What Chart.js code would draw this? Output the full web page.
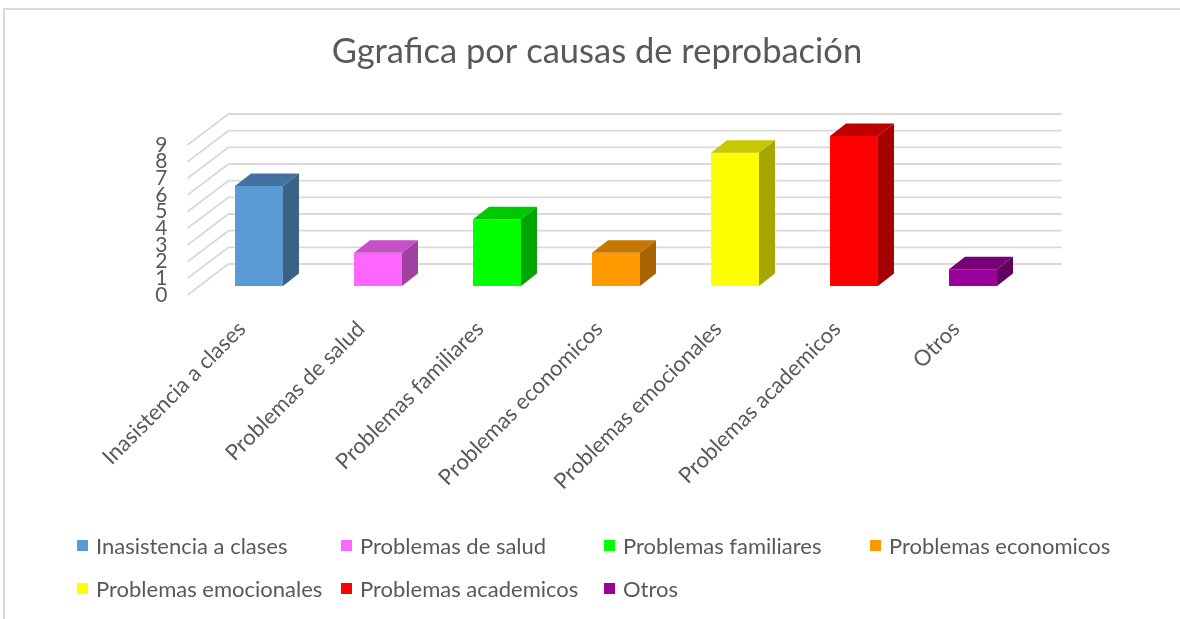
<!DOCTYPE html>
<html lang="es">
<head>
    <meta charset="UTF-8">
    <title>Ggrafica por causas de reprobación</title>
    <script src="https://cdn.jsdelivr.net/npm/chart.js"></script>
    <style>
        * {
            box-sizing: border-box;
            margin: 0;
            padding: 0;
        }
        body {
            width: 1180px;
            height: 619px;
            overflow: hidden;
            background: #ffffff;
            font-family: Lato, sans-serif;
            position: relative;
        }
        .frame {
            position: absolute;
            left: 3px;
            top: 8px;
            width: 1400px;
            height: 800px;
            border: 2px solid #d9d9d9;
        }
        canvas {
            position: absolute;
            left: 0;
            top: 0;
        }
        .legend {
            position: absolute;
            left: 77px;
            top: 532px;
            display: grid;
            grid-template-columns: 264px 263px 266px auto;
            row-gap: 17px;
            color: #595959;
            font-size: 22px;
        }
        .legend-item {
            display: flex;
            align-items: center;
            height: 26px;
            white-space: nowrap;
        }
        .legend-item span {
            display: inline-block;
            width: 11px;
            height: 11px;
            margin-right: 8px;
        }
    </style>
</head>
<body>

<div class="frame"></div>
<canvas id="chart" width="1180" height="619"></canvas>
<div class="legend" id="legend"></div>

<script>
    // chart data
    var categories = ['Inasistencia a clases', 'Problemas de salud', 'Problemas familiares',
        'Problemas economicos', 'Problemas emocionales', 'Problemas academicos', 'Otros'];
    var values = [6, 2, 4, 2, 8, 9, 1];
    var yTicks = [0, 1, 2, 3, 4, 5, 6, 7, 8, 9];

    // bar colours: front, top, side
    var frontColors = ['#5b9bd5', '#ff66ff', '#00ff00', '#ff9900', '#ffff00', '#ff0000', '#990099'];
    var topColors = ['#4472a0', '#c64fc6', '#00c800', '#c77700', '#c8c800', '#c00000', '#770077'];
    var sideColors = ['#3a6186', '#a040a0', '#00a300', '#a86400', '#a6a600', '#a50000', '#600060'];

    var textColor = '#595959';
    var gridColor = '#d9d9d9';

    // depth of bars and back wall
    var barDx = 16, barDy = -12.5;
    var wallDx = 29, wallDy = -22;
    var frontDx = -12, frontDy = 9;

    // grid drawn as a 3d back wall
    var wallPlugin = {
        id: 'wall',
        beforeDatasetsDraw: function(chart) {
            var c = chart.ctx;
            var area = chart.chartArea;
            var y = chart.scales.y;
            c.save();
            c.strokeStyle = gridColor;
            c.lineWidth = 1.8;
            yTicks.forEach(function(v) {
                var py = y.getPixelForValue(v);
                c.beginPath();
                c.moveTo(area.left + frontDx, py + frontDy);
                c.lineTo(area.left + wallDx, py + wallDy);
                c.lineTo(area.right + wallDx, py + wallDy);
                c.stroke();
            });
            c.restore();
        }
    };

    // top and side faces of each bar
    var boxPlugin = {
        id: 'box3d',
        afterDatasetsDraw: function(chart) {
            var c = chart.ctx;
            var meta = chart.getDatasetMeta(0);
            c.save();
            meta.data.forEach(function(bar, i) {
                var p = bar.getProps(['x', 'y', 'base', 'width'], true);
                var l = p.x - p.width / 2, r = p.x + p.width / 2;
                c.fillStyle = topColors[i];
                c.beginPath();
                c.moveTo(l, p.y);
                c.lineTo(r, p.y);
                c.lineTo(r + barDx, p.y + barDy);
                c.lineTo(l + barDx, p.y + barDy);
                c.closePath();
                c.fill();
                c.fillStyle = sideColors[i];
                c.beginPath();
                c.moveTo(r, p.y);
                c.lineTo(r + barDx, p.y + barDy);
                c.lineTo(r + barDx, p.base + barDy);
                c.lineTo(r, p.base);
                c.closePath();
                c.fill();
            });
            c.restore();
        }
    };

    var ctx = document.getElementById('chart').getContext('2d');
    var chart = new Chart(ctx, {
        type: 'bar',
        data: {
            labels: categories,
            datasets: [{
                label: 'Causas',
                data: values,
                backgroundColor: frontColors,
                borderWidth: 0,
                categoryPercentage: 1,
                barPercentage: 0.403
            }]
        },
        options: {
            responsive: false,
            animation: false,
            devicePixelRatio: 1,
            layout: {
                padding: { left: 14, right: 0, top: 0, bottom: 0 }
            },
            plugins: {
                legend: { display: false },
                tooltip: { enabled: false },
                title: {
                    display: true,
                    text: 'Ggrafica por causas de reprobación',
                    color: textColor,
                    font: { family: 'Lato', size: 34.5, weight: 'normal', lineHeight: 1.2 },
                    padding: { top: 31.5, bottom: 63.1 }
                }
            },
            scales: {
                x: {
                    grid: { display: false },
                    border: { display: false },
                    ticks: {
                        color: textColor,
                        font: { family: 'Lato', size: 22 },
                        minRotation: 45,
                        maxRotation: 45,
                        autoSkip: false,
                        padding: 22,
                        labelOffset: -17
                    },
                    afterFit: function(scale) {
                        scale.height = 333;
                        scale.paddingLeft = 0;
                        scale.paddingRight = 0;
                    }
                },
                y: {
                    min: 0,
                    max: 9,
                    grid: { display: false, drawTicks: false },
                    border: { display: false },
                    ticks: {
                        stepSize: 1,
                        autoSkip: false,
                        color: textColor,
                        font: { family: 'Lato', size: 21 },
                        padding: 32,
                        labelOffset: 9
                    },
                    afterFit: function(scale) {
                        scale.width = 185.5;
                    }
                },
                // empty right side to leave the space of the original
                side: {
                    position: 'right',
                    display: true,
                    grid: { display: false, drawTicks: false },
                    border: { display: false },
                    ticks: { display: false },
                    afterFit: function(scale) {
                        scale.width = 147.5;
                    }
                }
            }
        },
        plugins: [wallPlugin, boxPlugin]
    });

    // legend in a grid like the original
    var legend = document.getElementById('legend');
    categories.forEach(function(name, i) {
        var item = document.createElement('div');
        item.className = 'legend-item';
        var box = document.createElement('span');
        box.style.background = frontColors[i];
        item.appendChild(box);
        item.appendChild(document.createTextNode(name));
        legend.appendChild(item);
    });
</script>

</body>
</html>
